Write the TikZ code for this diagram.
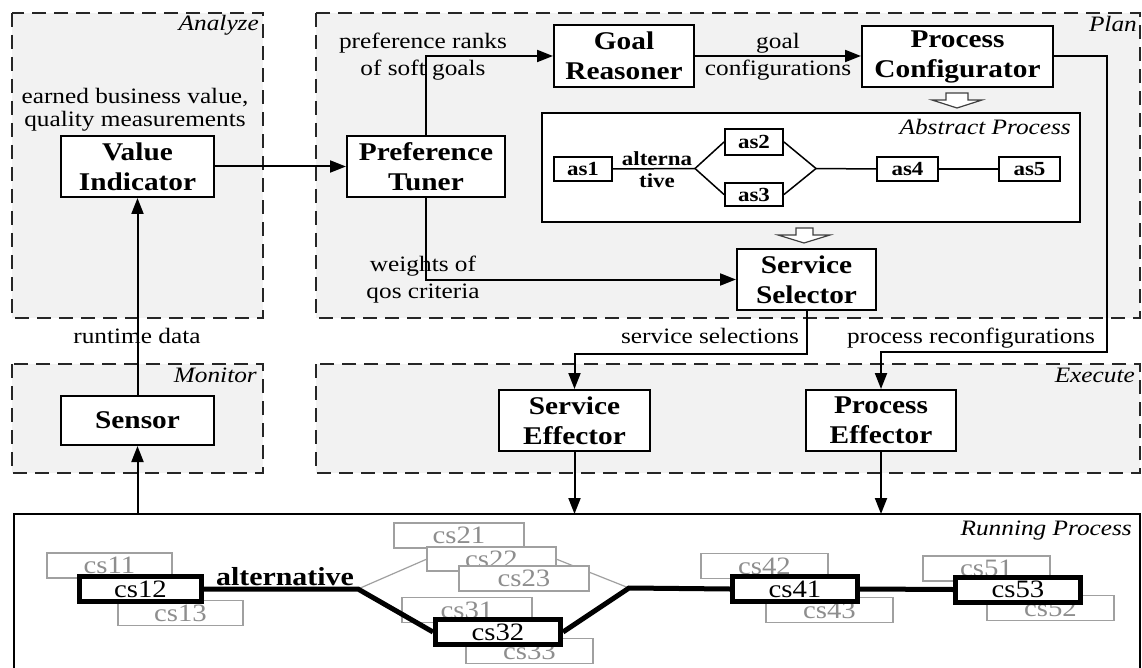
\documentclass[tikz,border=0pt]{standalone}
\usepackage{fontspec}
\setmainfont{Liberation Serif}[FakeStretch=1.15]
\usetikzlibrary{arrows.meta,calc}
\definecolor{bggray}{HTML}{F2F2F2}
\definecolor{ghost}{HTML}{A0A0A0}
\definecolor{ghosttext}{HTML}{8E8E8E}
\tikzset{
  grp/.style={draw=black!85, line width=2pt, dash pattern=on 14pt off 8pt, fill=bggray},
  box/.style={draw, line width=2pt, fill=white, align=center, inner sep=0pt,
    font=\bfseries\fontsize{25.5}{30}\selectfont},
  lbl/.style={align=center, inner sep=0pt, font=\fontsize{22}{27}\selectfont},
  grplbl/.style={inner sep=0pt, anchor=base east, font=\itshape\fontsize{22}{24}\selectfont},
  asbox/.style={draw, line width=2pt, fill=white, inner sep=0pt,
    font=\bfseries\fontsize{20}{22}\selectfont},
  gcs/.style={draw=ghost, line width=1.5pt, fill=white, text=ghosttext, inner sep=0pt,
    minimum width=127pt, minimum height=25pt, font=\fontsize{25}{27}\selectfont},
  bcs/.style={draw, line width=5pt, fill=white, inner sep=0pt,
    minimum width=122pt, minimum height=25pt, font=\fontsize{25}{27}\selectfont},
  conn/.style={line width=2pt, -{Triangle[length=16pt,width=12pt]}},
  thin/.style={line width=1.5pt},
  hollow/.style={draw=black!75, line width=1.2pt, fill=white, line join=miter},
}
\begin{document}
\begin{tikzpicture}[x=1pt,y=-1pt]
\useasboundingbox (0,0) rectangle (1142,668);
\fill[white] (0,0) rectangle (1142,668);

% group areas
\path[grp] (12,13) rectangle (263,318);
\path[grp] (316,13) rectangle (1140,318);
\path[grp] (12,364) rectangle (263,473);
\path[grp] (316,364) rectangle (1140,473);
\node[grplbl] at (259,31) {Analyze};
\node[grplbl] at (1137,32) {Plan};
\node[grplbl] at (257,382) {Monitor};
\node[grplbl] at (1135,382) {Execute};

% main boxes
\node[box, minimum width=153pt, minimum height=61pt] (vi) at (137.5,166.5) {Value\\Indicator};
\node[box, minimum width=158pt, minimum height=61pt] (pt) at (426,166.5) {Preference\\Tuner};
\node[box, minimum width=140pt, minimum height=62pt] (gr) at (624,56) {Goal\\Reasoner};
\node[box, minimum width=191pt, minimum height=61pt] (pc) at (957.5,56.5) {Process\\Configurator};
\node[box, minimum width=139pt, minimum height=61pt] (ss) at (806.5,279.5) {Service\\Selector};
\node[box, minimum width=153pt, minimum height=49pt] (sensor) at (137.5,420.5) {Sensor};
\node[box, minimum width=151pt, minimum height=61pt] (se) at (574.5,420.5) {Service\\Effector};
\node[box, minimum width=150pt, minimum height=61pt] (pe) at (881,420.5) {Process\\Effector};

% abstract process
\draw[line width=2pt, fill=white] (542,113) rectangle (1080,222);
\node[grplbl] at (1071,135) {Abstract Process};
\node[asbox, minimum width=58pt, minimum height=24pt] (as1) at (583,169) {as1};
\node[asbox, minimum width=58pt, minimum height=26pt] (as2) at (754,142) {as2};
\node[asbox, minimum width=58pt, minimum height=23pt] (as3) at (754,194.5) {as3};
\node[asbox, minimum width=61pt, minimum height=24pt] (as4) at (907.5,169) {as4};
\node[asbox, minimum width=61pt, minimum height=24pt] (as5) at (1029.5,169) {as5};
\coordinate (afork) at (695,168.5);
\coordinate (ajoin) at (816,168.5);
\node[inner sep=0pt, align=center, font=\bfseries\fontsize{20}{22}\selectfont] at (657,170) {alterna\\tive};
\draw[thin] (as1.east) -- (afork);
\draw[thin] (afork) -- (as2.west);
\draw[thin] (afork) -- (as3.west);
\draw[thin] (as2.east) -- (ajoin);
\draw[thin] (as3.east) -- (ajoin);
\draw[thin] (ajoin) -- (as4.west);
\draw[thin] (as4.east) -- (as5.west);

% hollow arrows
\draw[hollow] (946,93) -- (968,93) -- (968,100) -- (982,100) -- (957,108) -- (932,100) -- (946,100) -- cycle;
\draw[hollow] (796,228) -- (813,228) -- (813,235) -- (830,235) -- (804,243) -- (778,235) -- (796,235) -- cycle;

% labels
\node[lbl, font=\fontsize{22}{23}\selectfont] at (135,110) {earned business value,\\quality measurements};
\node[lbl] at (423,57) {preference ranks\\of soft goals};
\node[lbl] at (778,57) {goal\\configurations};
\node[lbl] at (423,280) {weights of\\qos criteria};
\node[lbl, anchor=base] at (137,343) {runtime data};
\node[lbl, anchor=base] at (710,343) {service selections};
\node[lbl, anchor=base] at (971,343) {process reconfigurations};

% connectors
\coordinate (rptop) at (0,514);
\coordinate (pcr) at (1107,352);
\coordinate (ssb) at (806.5,354);
\draw[conn] (vi.east) -- (pt.west);
\draw[conn] (pt.north) |- (gr.west);
\draw[conn] (pt.south) |- (ss.west);
\draw[conn] (gr.east) -- (gr.east -| pc.west);
\draw[conn] (pc.east) -| (pcr) -| (pe.north);
\draw[conn] (ss.south) -- (ssb) -| (se.north);
\draw[conn] (se.south) -- (se.south |- rptop);
\draw[conn] (pe.south) -- (pe.south |- rptop);
\draw[conn] (sensor.south |- rptop) -- (sensor.south);
\draw[conn] (sensor.north) -- (vi.south);

% running process
\draw[line width=2pt] (14,672) -- (14,514) -- (1140,514) -- (1140,672);
\node[grplbl] at (1132,535) {Running Process};

\coordinate (fork) at (358,589);
\coordinate (join) at (629,588);
% ghost connections
\draw[ghost, line width=1.2pt] (fork) -- (427,559);
\draw[ghost, line width=1.2pt] (556,559) -- (join);

% ghost services
\node[gcs, minimum width=125pt] (cs11) at (109.5,565.5) {cs11};
\node[gcs, minimum width=125pt] (cs13) at (180.5,613) {cs13};
\node[gcs, minimum width=130pt] (cs21) at (459,535.5) {cs21};
\node[gcs, minimum width=129pt, minimum height=24pt] (cs22) at (491.5,559) {cs22};
\node[gcs, minimum width=130pt] (cs23) at (524,578.5) {cs23};
\node[gcs, minimum width=130pt] (cs31) at (467,610) {cs31};
\node[gcs, minimum width=127pt] (cs33) at (529.5,651) {cs33};
\node[gcs, minimum width=127pt] (cs42) at (764.5,566) {cs42};
\node[gcs, minimum width=127pt] (cs43) at (829.5,610) {cs43};
\node[gcs, minimum width=127pt] (cs51) at (986.5,568.5) {cs51};
\node[gcs, minimum width=127pt] (cs52) at (1050.5,608) {cs52};

% selected services
\draw[line width=5pt] (204,589) -- (fork) -- (433,632);
\draw[line width=5pt] (563,632) -- (join) -- (730,589);
\node[bcs] (cs12) at (140.5,589) {cs12};
\node[bcs, minimum width=125pt] (cs32) at (498,632) {cs32};
\node[bcs, minimum width=125pt] (cs41) at (795,589) {cs41};
\node[bcs, minimum width=125pt] (cs53) at (1018,589.5) {cs53};
\draw[line width=5pt] (cs41.east) -- (cs53.west);
\node[inner sep=0pt, anchor=base, font=\bfseries\fontsize{26}{28}\selectfont] at (285,585) {alternative};
\end{tikzpicture}
\end{document}
